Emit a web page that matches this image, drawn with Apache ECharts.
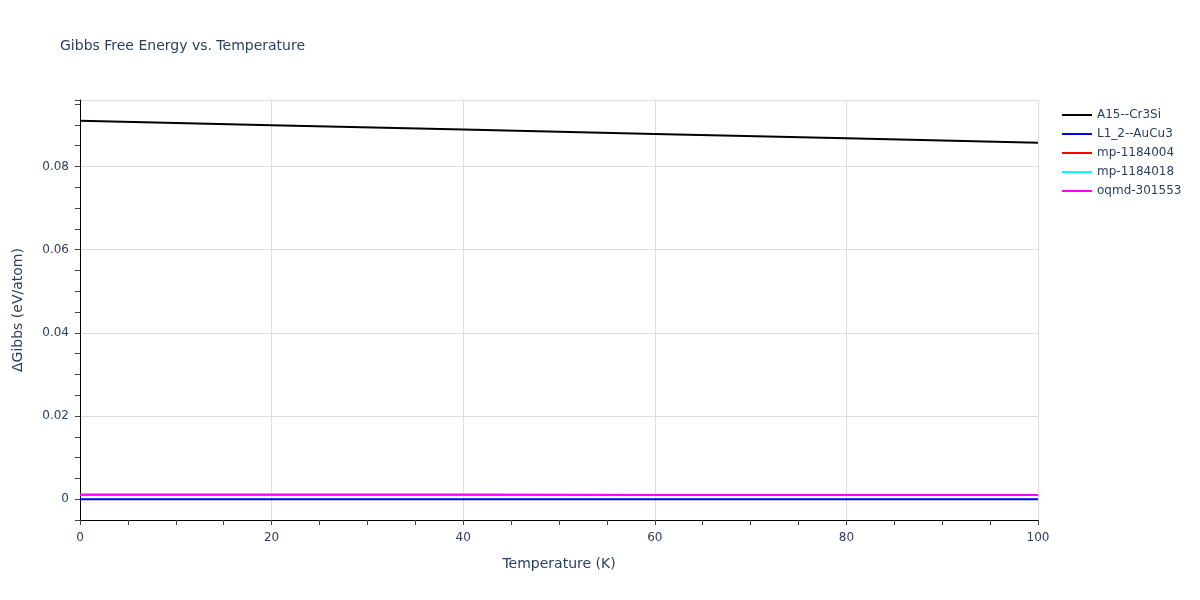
<!DOCTYPE html>
<html><head><meta charset="utf-8">
<script src="https://cdn.jsdelivr.net/npm/echarts@6/dist/echarts.min.js"></script>
<style>html,body{margin:0;padding:0;background:#fff}#c{width:1200px;height:600px}</style>
</head><body><div id="c"></div>
<script>
const temps = [0, 20, 40, 60, 80, 100];
const seriesNames = ['A15--Cr3Si', 'L1_2--AuCu3', 'mp-1184004', 'mp-1184018', 'oqmd-301553'];
const seriesColors = ['#000000', '#0000ff', '#ff0000', '#00ffff', '#ff00ff'];
const a15 = [0.0910, 0.0899, 0.0889, 0.0878, 0.0868, 0.0857];
const l12 = [0, 0, 0, 0, 0, 0];
const mp1184004 = [0.0011, 0.0011, 0.0011, 0.0010, 0.0010, 0.0010];
const mp1184018 = [0.0011, 0.0011, 0.0011, 0.0010, 0.0010, 0.0010];
const oqmd = [0.0011, 0.0011, 0.0011, 0.0010, 0.0010, 0.0010];
const allValues = [a15, l12, mp1184004, mp1184018, oqmd];
const yLabelTicks = [0, 0.02, 0.04, 0.06, 0.08];

const txt = '#2a3f5f';
const ff = 'DejaVu Sans';
const chart = echarts.init(document.getElementById('c'));
chart.setOption({
  animation: false,
  backgroundColor: '#fff',
  title: { text: 'Gibbs Free Energy vs. Temperature', left: 55, top: 34,
    textStyle: { fontFamily: ff, fontSize: 14, fontWeight: 'normal', color: txt } },
  legend: {
    orient: 'vertical', left: 1057, top: 104, itemGap: 7, itemWidth: 30, itemHeight: 2,
    icon: 'rect',
    textStyle: { fontFamily: ff, fontSize: 12, color: txt },
    data: seriesNames
  },
  grid: [
    { left: 80, right: 162, top: 100, bottom: 80, outerBoundsMode: 'none', containLabel: false },
    { left: 80, right: 162, top: 100, bottom: 101, outerBoundsMode: 'none', containLabel: false }
  ],
  xAxis: [
    { type: 'value', gridIndex: 0, min: 0, max: 100, interval: 20,
      name: 'Temperature (K)', nameLocation: 'middle', nameGap: 37,
      nameTextStyle: { fontFamily: ff, fontSize: 14, color: txt },
      axisLine: { show: true, onZero: false, lineStyle: { color: '#000', width: 1 } },
      axisTick: { show: true, length: 5, lineStyle: { color: '#444' } },
      minorTick: { show: true, splitNumber: 4, length: 5, lineStyle: { color: '#444' } },
      axisLabel: { fontFamily: ff, fontSize: 12, color: txt, margin: 12 },
      splitLine: { show: true, lineStyle: { color: '#dddddd', width: 1 } } },
    { type: 'value', gridIndex: 1, min: 0, max: 100, show: false }
  ],
  yAxis: [
    { type: 'value', gridIndex: 0, min: -0.005, max: 0.096, interval: 0.005,
      name: 'ΔGibbs (eV/atom)', nameLocation: 'middle', nameGap: 55,
      nameTextStyle: { fontFamily: ff, fontSize: 14, color: txt },
      axisLine: { show: true, onZero: false, lineStyle: { color: '#000', width: 1 } },
      axisTick: { show: true, length: 5, lineStyle: { color: '#444' } },
      axisLabel: { fontFamily: ff, fontSize: 12, color: txt, margin: 11,
        formatter: v => { const r = Math.round(v * 1000) / 1000; return yLabelTicks.some(t => Math.abs(t - r) < 1e-9) ? (r === 0 ? '0' : r.toFixed(2)) : ''; } },
      splitLine: { show: false } },
    { type: 'value', gridIndex: 1, min: 0, max: 0.096, interval: 0.02,
      axisLine: { show: false }, axisTick: { show: false }, axisLabel: { show: false },
      splitLine: { show: true, lineStyle: { color: '#dddddd', width: 1 } } }
  ],
  series: seriesNames.map((n, i) => ({
    name: n, type: 'line', xAxisIndex: 0, yAxisIndex: 0,
    data: temps.map((t, j) => [t, allValues[i][j]]),
    showSymbol: false, symbol: 'none',
    lineStyle: { color: seriesColors[i], width: 2 },
    itemStyle: { color: seriesColors[i] },
    z: 3 + i
  }))
});
</script></body></html>
